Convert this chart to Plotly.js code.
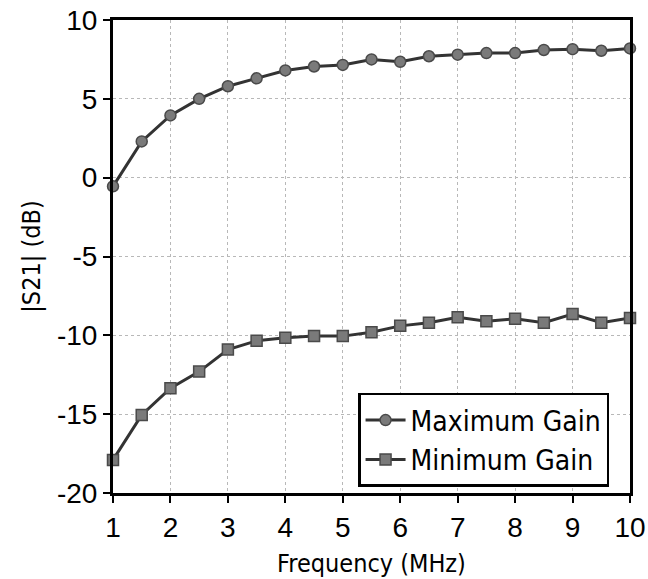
<!DOCTYPE html>
<html>
<head>
<meta charset="utf-8">
<script src="https://cdn.plot.ly/plotly-3.0.1.min.js"></script>
<style>
  html, body { margin: 0; padding: 0; background: #fff; }
  #chart { width: 648px; height: 579px; }
</style>
</head>
<body>
<div id="chart"></div>
<script>
// Frequency sweep (MHz)
const freqMHz = [1, 1.5, 2, 2.5, 3, 3.5, 4, 4.5, 5, 5.5, 6, 6.5, 7, 7.5, 8, 8.5, 9, 9.5, 10];

// |S21| in dB at the maximum and minimum gain settings
const maxGainDb = [-0.55, 2.3, 3.95, 5.0, 5.8, 6.3, 6.8, 7.05, 7.15, 7.5, 7.35, 7.7, 7.8, 7.9, 7.9, 8.1, 8.15, 8.05, 8.2];
const minGainDb = [-17.9, -15.05, -13.35, -12.3, -10.9, -10.35, -10.15, -10.05, -10.05, -9.8, -9.4, -9.2, -8.85, -9.1, -8.95, -9.2, -8.65, -9.2, -8.9];

const seriesNames = ['Maximum Gain', 'Minimum Gain'];
const xTicks = [1, 2, 3, 4, 5, 6, 7, 8, 9, 10];
const yTicks = [-20, -15, -10, -5, 0, 5, 10];

const lineColor = '#333333';
const markerFill = '#7a7a7a';
const markerEdge = '#4a4a4a';

const traces = [
  {
    x: freqMHz, y: maxGainDb, name: seriesNames[0],
    type: 'scatter', mode: 'lines+markers', cliponaxis: false,
    line: { color: lineColor, width: 3 },
    marker: { symbol: 'circle', size: 11, color: markerFill, line: { color: markerEdge, width: 1.5 } }
  },
  {
    x: freqMHz, y: minGainDb, name: seriesNames[1],
    type: 'scatter', mode: 'lines+markers', cliponaxis: false,
    line: { color: lineColor, width: 3 },
    marker: { symbol: 'square', size: 11, color: markerFill, line: { color: markerEdge, width: 1.5 } }
  }
];

const tickFont = { family: 'Liberation Sans, Arial, sans-serif', size: 28, color: '#000' };
const titleFont = { family: 'DejaVu Sans Condensed, Liberation Sans, Arial, sans-serif', size: 25, color: '#000' };

const layout = {
  width: 648, height: 579,
  margin: { l: 113, r: 18, t: 20, b: 86 },
  paper_bgcolor: '#fff', plot_bgcolor: '#fff',
  showlegend: true,
  legend: {
    x: 0.474, y: 0.013, xanchor: 'left', yanchor: 'bottom',
    bgcolor: '#fff', bordercolor: '#000', borderwidth: 2.5,
    font: { family: 'DejaVu Sans Condensed, Liberation Sans, Arial, sans-serif', size: 28, color: '#000' },
    tracegroupgap: 0, itemwidth: 40
  },
  xaxis: {
    range: [1, 10], tickvals: xTicks, ticktext: xTicks.map(String),
    showline: true, linecolor: '#000', linewidth: 3, mirror: true,
    ticks: 'outside', ticklen: 7, tickwidth: 2, tickcolor: '#000',
    showgrid: true, gridcolor: '#b8b8b8', griddash: 'dot', gridwidth: 1,
    zeroline: false, tickfont: tickFont,
    title: { text: 'Frequency (MHz)', font: titleFont, standoff: 13 }
  },
  yaxis: {
    range: [-20, 10], tickvals: yTicks, ticktext: yTicks.map(String),
    showline: true, linecolor: '#000', linewidth: 3, mirror: true,
    ticks: 'outside', ticklen: 7, tickwidth: 2, tickcolor: '#000',
    showgrid: true, gridcolor: '#b8b8b8', griddash: 'dot', gridwidth: 1,
    zeroline: false, tickfont: tickFont,
    title: { text: '|S21| (dB)', font: titleFont, standoff: 10 }
  }
};

Plotly.newPlot('chart', traces, layout, { staticPlot: true, displayModeBar: false });
</script>
</body>
</html>
